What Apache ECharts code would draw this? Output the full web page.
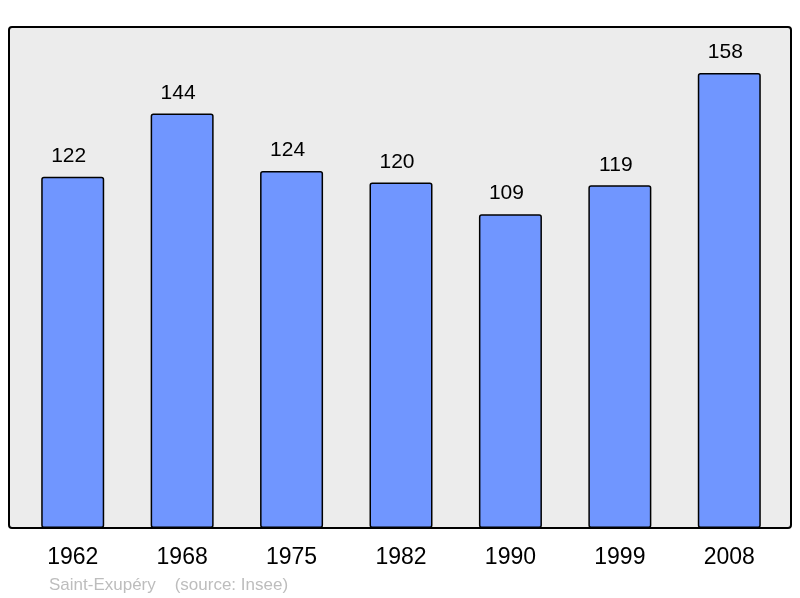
<!DOCTYPE html>
<html>
<head>
<meta charset="utf-8">
<script src="https://cdn.jsdelivr.net/npm/echarts@6/dist/echarts.min.js"></script>
<style>
  html, body { margin: 0; padding: 0; background: #fff; }
  #chart { width: 800px; height: 598px; }
</style>
</head>
<body>
<div id="chart"></div>
<script>
const years = ["1962", "1968", "1975", "1982", "1990", "1999", "2008"];
const population = [122, 144, 124, 120, 109, 119, 158];
const yMax = 174;

let myChart = echarts.init(document.getElementById("chart"));
let option = {
  backgroundColor: "#fff",
  animation: false,
  textStyle: { fontFamily: "Liberation Sans, Arial, sans-serif" },
  graphic: [
    {
      type: "rect",
      z: -10,
      shape: { x: 9, y: 27, width: 782, height: 501, r: 3 },
      style: { fill: "#ececec", stroke: "#000", lineWidth: 2 }
    },
    {
      type: "text",
      left: 49,
      top: 577,
      style: {
        text: "Saint-Exupéry    (source: Insee)",
        fill: "#bdbdbd",
        font: "17px Liberation Sans, Arial, sans-serif"
      }
    }
  ],
  grid: { left: 18, right: 16, top: 27, bottom: 70 },
  xAxis: {
    type: "category",
    data: years,
    axisLine: { show: false },
    axisTick: { show: false },
    axisLabel: { color: "#000", fontSize: 23, margin: 18 }
  },
  yAxis: {
    type: "value",
    min: 0,
    max: yMax,
    show: false,
    splitLine: { show: false }
  },
  series: [
    {
      type: "bar",
      data: population,
      barWidth: 63,
      itemStyle: {
        color: "#7096ff",
        borderColor: "#000",
        borderWidth: 1.5,
        borderRadius: 2
      },
      label: {
        show: true,
        position: "top",
        distance: 10,
        offset: [-4, 0],
        color: "#000",
        fontSize: 21
      }
    }
  ]
};
myChart.setOption(option);
</script>
</body>
</html>
